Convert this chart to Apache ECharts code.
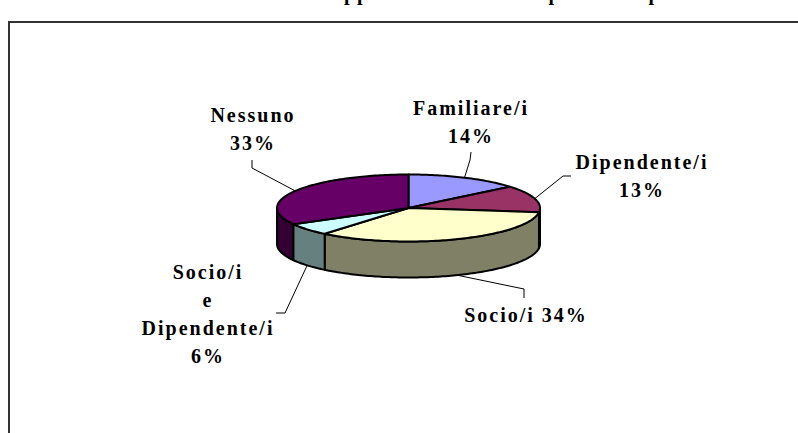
<!DOCTYPE html>
<html>
<head>
<meta charset="utf-8">
<style>
  html, body { margin: 0; padding: 0; background: #fff; }
  #chart { width: 798px; height: 433px; }
  /* the labels in the original are widely tracked */
  #chart text { letter-spacing: 2px; }
</style>
<script src="https://cdn.jsdelivr.net/npm/echarts@6/dist/echarts.min.js"></script>
</head>
<body>
<div id="chart"></div>
<script>
// slices, clockwise from 12 o'clock
var categories = ['Familiare/i', 'Dipendente/i', 'Socio/i', 'Socio/i\ne\nDipendente/i', 'Nessuno'];
var percents = [14, 13, 34, 6, 33];
var topColors = ['#9999ff', '#993366', '#ffffcc', '#ccffff', '#660066'];
var sideColors = ['#4d4d80', '#4d1a33', '#808066', '#668080', '#330033'];

// the title is cut off by the top of the picture, only these descenders show
var titleBits = ['pp', 'p', 'p'];
var titleBitX = [357, 555, 655];

// pie shape
var cx = 408.5, cy = 208, rx = 131.5, ry = 33.5, depth = 36;

// label centre and the two bends of each leader line
var labelPos = [[471, 122], [642, 176], [526, 315], [208, 314], [253, 129]];
var leaderBends = [[[470, 160], [471, 152]], [[563, 176], [571, 176]], [[524, 289], [524, 298]], [[285, 313], [276, 313]], [[252, 168], [252, 160]]];
// Socio/i sits on one line in the original
var labelText = ['Familiare/i\n14%', 'Dipendente/i\n13%', 'Socio/i 34%', 'Socio/i\ne\nDipendente/i\n6%', 'Nessuno\n33%'];

var total = percents.reduce(function (a, b) { return a + b; }, 0);

function rimPoint(t, drop) {
  return [cx + rx * Math.sin(t), cy - ry * Math.cos(t) + (drop || 0)];
}

function arcPoints(from, to, drop) {
  var pts = [];
  var steps = Math.max(2, Math.ceil((to - from) / 0.02));
  for (var i = 0; i <= steps; i++) {
    pts.push(rimPoint(from + (to - from) * i / steps, drop));
  }
  return pts;
}

var starts = [];
var running = 0;
percents.forEach(function (p) {
  starts.push(running / total * Math.PI * 2);
  running += p;
});

function styled(fill) {
  return { fill: fill, stroke: '#000', lineWidth: 2, lineJoin: 'round' };
}

function renderSides(params, api) {
  var i = params.dataIndex;
  var a = starts[i];
  var b = a + api.value(0) / total * Math.PI * 2;
  // only the front half of the rim is visible
  var from = Math.max(a, Math.PI / 2);
  var to = Math.min(b, Math.PI * 1.5);
  if (to <= from) return { type: 'group', children: [] };
  var pts = arcPoints(from, to, 0).concat(arcPoints(from, to, depth).reverse());
  return { type: 'polygon', shape: { points: pts }, style: styled(sideColors[i]) };
}

function renderTops(params, api) {
  var i = params.dataIndex;
  var a = starts[i];
  var b = a + api.value(0) / total * Math.PI * 2;
  var pts = [[cx, cy]].concat(arcPoints(a, b, 0));
  return { type: 'polygon', shape: { points: pts }, style: styled(topColors[i]) };
}

function renderLabels(params, api) {
  var i = params.dataIndex;
  var mid = starts[i] + api.value(0) / total * Math.PI;
  // leaders leave the rim at mid slice, dropping to the side wall on the front half
  var front = mid > Math.PI / 2 && mid < Math.PI * 1.5;
  var from = rimPoint(mid, front ? depth : 0);
  return {
    type: 'group',
    children: [
      {
        type: 'polyline',
        shape: { points: [from].concat(leaderBends[i]) },
        style: { fill: null, stroke: '#000', lineWidth: 1 }
      },
      {
        type: 'text',
        style: {
          text: labelText[i],
          x: labelPos[i][0],
          y: labelPos[i][1],
          align: 'center',
          verticalAlign: 'middle',
          fill: '#000',
          font: 'bold 20px "Liberation Serif"',
          lineHeight: 28
        }
      }
    ]
  };
}

var seriesData = categories.map(function (name, i) {
  return { name: name, value: [percents[i]] };
});

var graphics = [
  // chart frame, runs off the right and bottom of the picture
  {
    type: 'polyline',
    shape: { points: [[9, 433], [9, 22], [798, 22]] },
    style: { fill: null, stroke: '#333', lineWidth: 2 },
    silent: true
  }
];
titleBits.forEach(function (bit, i) {
  graphics.push({
    type: 'text',
    silent: true,
    style: {
      text: bit,
      x: titleBitX[i],
      y: -7,
      align: 'center',
      verticalAlign: 'middle',
      fill: '#000',
      font: 'bold 20px "Liberation Serif"'
    }
  });
});

var myChart = echarts.init(document.getElementById('chart'), null, { renderer: 'svg' });

myChart.setOption({
  animation: false,
  backgroundColor: '#fff',
  graphic: graphics,
  series: [
    { type: 'custom', coordinateSystem: 'none', renderItem: renderSides, data: seriesData, z: 2 },
    { type: 'custom', coordinateSystem: 'none', renderItem: renderTops, data: seriesData, z: 3 },
    { type: 'custom', coordinateSystem: 'none', renderItem: renderLabels, data: seriesData, z: 4 }
  ]
});
</script>
</body>
</html>
